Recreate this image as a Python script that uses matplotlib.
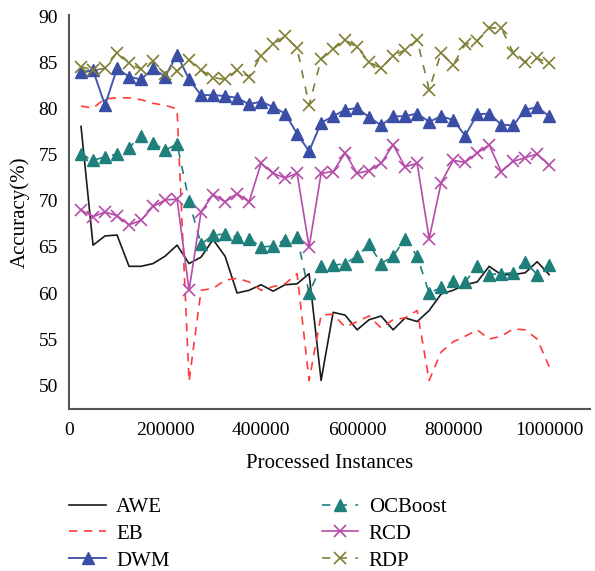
import numpy as np
import matplotlib.pyplot as plt

# processed instances (every 25000)
instances = np.arange(25000, 1000001, 25000)

awe = [78.1, 65.2, 66.2, 66.3, 62.9, 62.9, 63.2, 64.0, 65.2, 63.2,
       63.9, 65.8, 64.0, 60.0, 60.3, 60.9, 60.2, 60.9, 61.0, 62.1,
       50.5, 57.9, 57.6, 56.0, 57.1, 57.5, 56.0, 57.3, 56.9, 58.1,
       59.9, 60.3, 60.9, 61.2, 62.9, 62.0, 62.0, 62.2, 63.4, 62.0]
eb = [80.3, 80.1, 81.1, 81.2, 81.2, 81.0, 80.6, 80.4, 80.0, 50.4,
      60.3, 60.5, 61.4, 61.6, 61.2, 60.3, 60.7, 61.0, 62.1, 50.5,
      57.6, 57.7, 56.3, 56.9, 57.5, 56.2, 57.1, 57.3, 58.1, 50.5,
      53.6, 54.7, 55.3, 56.0, 55.0, 55.3, 56.1, 56.0, 55.0, 52.0]
dwm = [84.0, 84.2, 80.4, 84.4, 83.5, 83.2, 84.4, 83.5, 85.9, 83.2,
       81.5, 81.5, 81.4, 81.2, 80.5, 80.8, 80.2, 79.5, 77.3, 75.4,
       78.5, 79.2, 79.9, 80.1, 79.1, 78.2, 79.2, 79.2, 79.5, 78.6,
       79.2, 78.8, 77.1, 79.4, 79.5, 78.3, 78.2, 79.9, 80.2, 79.2]
ocboost = [75.1, 74.4, 74.8, 75.1, 75.8, 77.1, 76.3, 75.5, 76.2, 70.0,
           65.3, 66.3, 66.4, 66.1, 65.9, 65.0, 65.1, 65.8, 66.1, 60.0,
           62.9, 63.0, 63.2, 64.0, 65.3, 63.2, 64.0, 65.9, 64.0, 60.0,
           60.6, 61.3, 61.2, 62.9, 62.0, 62.1, 62.2, 63.4, 62.0, 63.0]
rcd = [69.0, 68.3, 68.8, 68.4, 67.4, 67.9, 69.4, 70.1, 70.2, 60.3,
       68.8, 70.7, 69.9, 70.8, 69.9, 74.1, 73.0, 72.5, 73.0, 65.0,
       73.0, 73.2, 75.2, 73.0, 73.3, 74.1, 76.1, 73.7, 74.1, 65.9,
       72.0, 74.4, 74.2, 75.2, 76.1, 73.2, 74.3, 74.7, 75.1, 73.9]
rdp = [84.6, 84.2, 84.4, 86.1, 85.0, 84.3, 85.2, 83.8, 84.1, 85.3,
       84.2, 83.4, 83.2, 84.2, 83.5, 85.8, 87.0, 87.9, 86.6, 80.4,
       85.4, 86.5, 87.5, 86.7, 85.1, 84.4, 85.8, 86.4, 87.5, 82.1,
       86.1, 84.8, 87.0, 87.4, 88.8, 88.8, 86.1, 85.1, 85.5, 85.0]

plt.rcParams['font.family'] = ['Liberation Serif', 'DejaVu Serif']

fig = plt.figure(figsize=(5.95, 5.71), dpi=100)
ax = fig.add_axes([0.116, 0.2837, 0.8756, 0.690])

ax.plot(instances, awe, color='#1a1a1a', lw=1.2, label='AWE')
ax.plot(instances, eb, color='#ff3b3b', lw=1.2, ls=(0, (5, 4)), label='EB')
ax.plot(instances, dwm, color='#4457ad', lw=1.4, marker='^', ms=8,
        mfc='#3a4ea6', mec='#3a4ea6', label='DWM')
ax.plot(instances, ocboost, color='#1f7f7b', lw=1.2, ls=(0, (5, 5)), marker='^',
        ms=8, mfc='#1f7f7b', mec='#1f7f7b', label='OCBoost')
ax.plot(instances, rcd, color='#b54ca9', lw=1.2, marker='x', ms=9, mew=1.2,
        label='RCD')
ax.plot(instances, rdp, color='#7f7f35', lw=1.2, ls=(0, (5, 5)), marker='x',
        ms=9, mew=1.2, label='RDP')

ax.set_xlim(0, 1085000)
ax.set_ylim(47.4, 90.2)
ax.set_xticks([0, 200000, 400000, 600000, 800000, 1000000])
ax.set_xticklabels(['0', '200000', '400000', '600000', '800000', '1000000'])
ax.set_yticks([50, 55, 60, 65, 70, 75, 80, 85, 90])
ax.tick_params(length=0, labelsize=14, pad=8)
ax.tick_params(axis='x', pad=9)
for s in ['top', 'right']:
    ax.spines[s].set_visible(False)
for s in ['left', 'bottom']:
    ax.spines[s].set_color('#555555')
    ax.spines[s].set_linewidth(1.5)

ax.set_xlabel('Processed Instances', fontsize=15, labelpad=11)
ax.set_ylabel('Accuracy(%)', fontsize=15, labelpad=6)

fig.legend(loc='upper left', bbox_to_anchor=(0.085, 0.162), ncol=2,
           frameon=False, fontsize=15, handlelength=1.75, columnspacing=7.3,
           labelspacing=0.35, handletextpad=0.5)

fig.savefig('out.png', dpi=100)
